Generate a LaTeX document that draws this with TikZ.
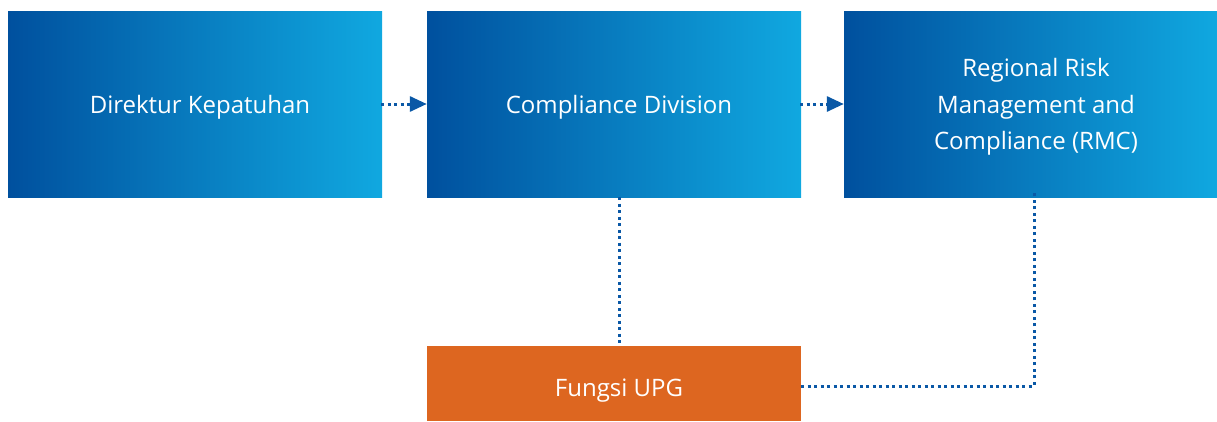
\documentclass[tikz,border=0pt]{standalone}
\usepackage{fontspec}
\setmainfont{Open Sans}
\usetikzlibrary{arrows.meta, calc}
\definecolor{bmdark}{RGB}{0, 80, 158}
\definecolor{bmlight}{RGB}{16, 168, 224}
\definecolor{bmline}{RGB}{10, 88, 166}
\definecolor{bmorange}{RGB}{221, 102, 32}

\begin{document}
\begin{tikzpicture}[x=1pt, y=-1pt,
    unitbox/.style={minimum width=374pt, minimum height=186pt, inner sep=0pt,
        left color=bmdark, right color=bmlight, draw=none},
    upgbox/.style={minimum width=374pt, minimum height=75pt, inner sep=0pt,
        fill=bmorange, draw=none},
    boxtext/.style={text=white, font=\fontsize{24}{36.5}\selectfont,
        align=center, xshift=5pt, yshift=-3pt},
    dotline/.style={bmline, line width=3pt, dash pattern=on 3pt off 3.5pt},
    dotarrow/.style={dotline, -{Triangle[length=17pt, width=15pt]}}]

\useasboundingbox (0,0) rectangle (1217,421);

% Kotak unit
\node[unitbox, label={[boxtext]center:Direktur Kepatuhan}] (direktur) at (195,104) {};
\node[unitbox, label={[boxtext]center:Compliance Division}] (division) at (614,104) {};
\node[unitbox, label={[boxtext]center:Regional Risk\\Management and\\Compliance (RMC)}] (rmc) at (1031,104) {};

% Fungsi UPG
\node[upgbox, label={[boxtext, yshift=-4pt]center:Fungsi UPG}] (upg) at (614,383.5) {};

% Alur pelaporan
\draw[dotarrow] ([xshift=-1pt]direktur.east) -- (division.west);
\draw[dotarrow] ([xshift=-1pt]division.east) -- (rmc.west);

% Hubungan dengan UPG
\draw[dotline] ([xshift=5pt]division.south) -- ([xshift=5pt]upg.north);
\coordinate (rmcfoot) at ([xshift=3pt, yshift=7pt]rmc.south);
\draw[dotline] ([yshift=-2.5pt]upg.east) -| (rmcfoot);

\end{tikzpicture}
\end{document}
